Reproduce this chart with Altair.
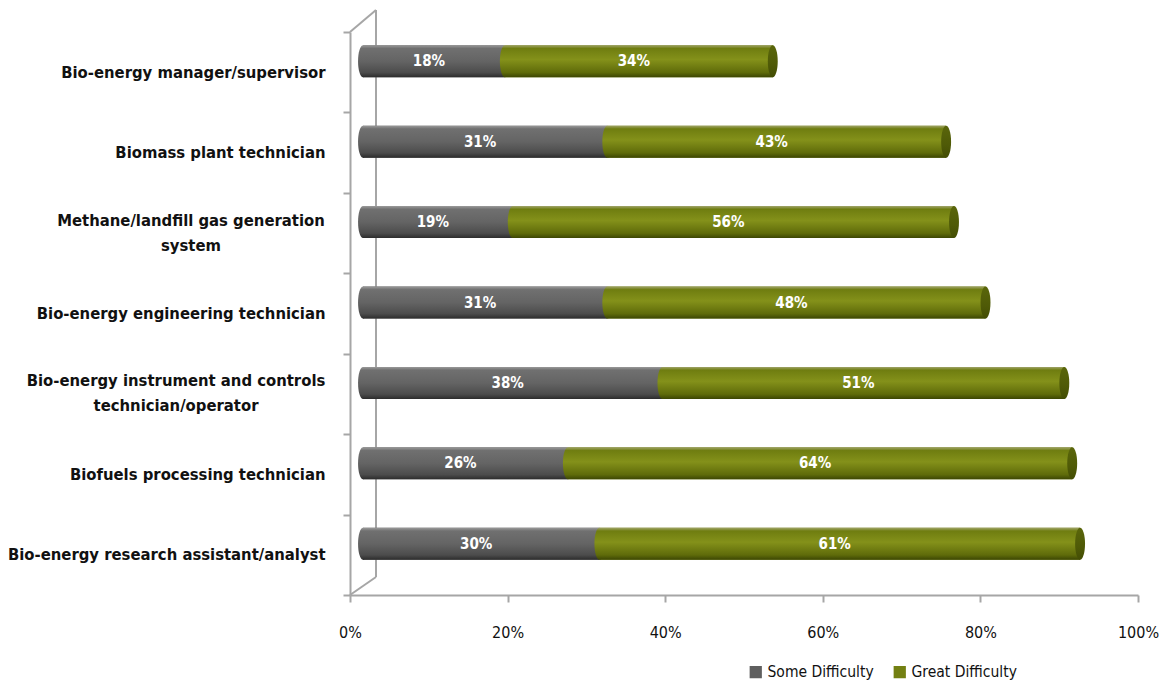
import altair as alt
import pandas as pd

categories = [
    "Bio-energy manager/supervisor",
    "Biomass plant technician",
    "Methane/landfill gas generation|system",
    "Bio-energy engineering technician",
    "Bio-energy instrument and controls|technician/operator",
    "Biofuels processing technician",
    "Bio-energy research assistant/analyst",
]
some_difficulty = [18, 31, 19, 31, 38, 26, 30]
great_difficulty = [34, 43, 56, 48, 51, 64, 61]
series = ["Some Difficulty", "Great Difficulty"]
x_ticks = [0, 20, 40, 60, 80, 100]

rows = []
for c, s, g in zip(categories, some_difficulty, great_difficulty):
    rows.append({"category": c, "series": series[0], "value": s, "order": 0})
    rows.append({"category": c, "series": series[1], "value": g, "order": 1})
df = pd.DataFrame(rows)
cat_df = pd.DataFrame({"category": categories})

FONT = "DejaVu Sans Condensed, DejaVu Sans, sans-serif"
AXIS_GRAY = "#a6a6a6"
DEPTH = 3.3  # 3-D wall depth in % units
OFF = 13
YOFF = -11

grad_gray = alt.Gradient(
    gradient="linear", x1=0, x2=0, y1=0, y2=1,
    stops=[
        alt.GradientStop(color="#9a9a9a", offset=0),
        alt.GradientStop(color="#707070", offset=0.1),
        alt.GradientStop(color="#646464", offset=0.5),
        alt.GradientStop(color="#4c4c4c", offset=0.85),
        alt.GradientStop(color="#2c2c2c", offset=1),
    ],
)
grad_olive = alt.Gradient(
    gradient="linear", x1=0, x2=0, y1=0, y2=1,
    stops=[
        alt.GradientStop(color="#a0a46a", offset=0),
        alt.GradientStop(color="#6f7d10", offset=0.1),
        alt.GradientStop(color="#84911a", offset=0.45),
        alt.GradientStop(color="#5f6b0a", offset=0.85),
        alt.GradientStop(color="#3c4603", offset=1),
    ],
)
grad_cap = alt.Gradient(
    gradient="linear", x1=0, x2=0, y1=0, y2=1,
    stops=[
        alt.GradientStop(color="#5a660b", offset=0),
        alt.GradientStop(color="#4f5a07", offset=0.6),
        alt.GradientStop(color="#434d04", offset=1),
    ],
)

y_enc = alt.Y(
    "category:N",
    sort=categories,
    scale=alt.Scale(paddingInner=0, paddingOuter=0),
    axis=alt.Axis(
        title=None,
        labelExpr="indexof(datum.label, '|') >= 0 ? '' : datum.label",
        labelFont=FONT,
        labelFontSize=16.5,
        labelFontWeight="bold",
        labelColor="#111111",
        labelPadding=18,
        labelLimit=400,
        tickBand="extent",
        tickSize=7,
        tickColor=AXIS_GRAY,
        tickWidth=2,
        domainColor=AXIS_GRAY,
        domainWidth=2,
    ),
)
x_axis = alt.Axis(
    title=None,
    values=x_ticks,
    labelExpr="datum.value + '%'",
    grid=False,
    labelFlush=False,
    labelFont=FONT,
    labelFontSize=16,
    labelColor="#111111",
    labelPadding=22,
    tickSize=7,
    tickColor=AXIS_GRAY,
    tickWidth=2,
    domainColor=AXIS_GRAY,
    domainWidth=2,
)
x_scale = alt.Scale(domain=[0, 100], nice=False)

base = alt.Chart(df).transform_stack(
    stack="value", as_=["start", "end"], groupby=["category"],
    sort=[alt.SortField("order", order="ascending")],
).transform_calculate(mid="(datum.start + datum.end) / 2", pct="datum.value + '%'")

flat = base.mark_bar(size=32, xOffset=OFF, x2Offset=OFF, yOffset=YOFF).encode(
    x=alt.X("start:Q", scale=x_scale, axis=x_axis),
    x2="end:Q",
    y=y_enc,
    color=alt.Color(
        "series:N",
        sort=series,
        scale=alt.Scale(domain=series, range=["#5f5f5f", "#738012"]),
        legend=alt.Legend(
            title=None,
            orient="none",
            legendX=398,
            legendY=632,
            direction="horizontal",
            symbolType="square",
            symbolSize=150,
            symbolStrokeWidth=0,
            labelFont=FONT,
            labelFontSize=15.5,
            labelColor="#111111",
            columnPadding=18,
        ),
    ),
)

is_some = f"datum.series == '{series[0]}'"
is_great = f"datum.series == '{series[1]}'"

gray_bars = base.transform_filter(is_some).mark_bar(
    size=32, xOffset=OFF, x2Offset=OFF, yOffset=YOFF, color=grad_gray
).encode(x=alt.X("start:Q", scale=x_scale, axis=x_axis), x2="end:Q", y=y_enc)

olive_bars = base.transform_filter(is_great).mark_bar(
    size=32, xOffset=OFF, x2Offset=OFF, yOffset=YOFF, color=grad_olive
).encode(x=alt.X("start:Q", scale=x_scale, axis=x_axis), x2="end:Q", y=y_enc)

ELLIPSE = "M0,-1A0.31,1,0,1,1,0,1A0.31,1,0,1,1,0,-1Z"


def cap(filter_expr, field, fill):
    return base.transform_filter(filter_expr).mark_point(
        shape=ELLIPSE, size=1024, filled=True, opacity=1, strokeWidth=0,
        xOffset=OFF, yOffset=YOFF, fill=fill,
    ).encode(x=alt.X(field, scale=x_scale, axis=x_axis), y=y_enc)


gray_start = cap(is_some, "start:Q", grad_gray)
olive_start = cap(is_great, "start:Q", grad_olive)
olive_end = cap(is_great, "end:Q", grad_cap)

labels = base.mark_text(
    font=FONT, fontSize=15, fontWeight="bold", color="white",
    dx=OFF - 5, dy=YOFF, baseline="middle",
).encode(
    x=alt.X("mid:Q", scale=x_scale, axis=x_axis),
    y=y_enc,
    text="pct:N",
)


# two-line category labels, centred like the original
def wrapped_label(cat, cx):
    return alt.Chart(cat_df).transform_filter(
        alt.datum.category == cat
    ).mark_text(
        font=FONT, fontSize=16.5, fontWeight="bold", color="#111111",
        align="center", baseline="middle", lineBreak="|", lineHeight=25,
        x=cx, dy=-12.5,
    ).encode(y=y_enc, text="category:N")


wrap_a = wrapped_label(categories[2], -159)
wrap_b = wrapped_label(categories[4], -174)

one = pd.DataFrame({"a": [0]})
wall_top = alt.Chart(one).mark_rule(color=AXIS_GRAY, strokeWidth=2).encode(
    x=alt.datum(0), x2=alt.datum(DEPTH), y=alt.value(0), y2=alt.value(-22)
)
wall_back = alt.Chart(one).mark_rule(color=AXIS_GRAY, strokeWidth=2).encode(
    x=alt.datum(DEPTH), y=alt.value(-22), y2=alt.value(545)
)
wall_bottom = alt.Chart(one).mark_rule(color=AXIS_GRAY, strokeWidth=2).encode(
    x=alt.datum(0), x2=alt.datum(DEPTH), y=alt.value(563), y2=alt.value(545)
)

chart = alt.layer(
    wall_top, wall_back, wall_bottom,
    flat, gray_bars, gray_start, olive_bars, olive_start, olive_end, labels,
    wrap_a, wrap_b,
).properties(
    width=788,
    height=563,
    autosize="none",
    padding={"left": 350, "top": 32, "right": 29, "bottom": 90},
    background="white",
).configure_view(stroke=None)

chart.save("out.html", embed_options={"renderer": "svg", "actions": False})
